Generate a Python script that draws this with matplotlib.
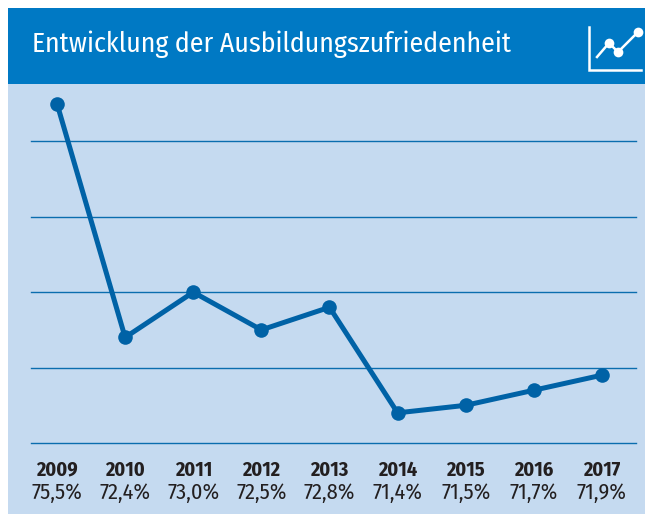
import matplotlib
matplotlib.use('Agg')
import matplotlib.pyplot as plt
from matplotlib.patches import Rectangle

#Dati
years = [2009, 2010, 2011, 2012, 2013, 2014, 2015, 2016, 2017]
values = [75.5, 72.4, 73.0, 72.5, 72.8, 71.4, 71.5, 71.7, 71.9]
value_labels = ['75,5%', '72,4%', '73,0%', '72,5%', '72,8%', '71,4%', '71,5%', '71,7%', '71,9%']
grid_levels = [71, 72, 73, 74, 75]
title = 'Entwicklung der Ausbildungszufriedenheit'

W, H = 645, 514
FONT = ['Fira Sans Condensed', 'Liberation Sans', 'DejaVu Sans']
HEADER = '#0079c4'
BODY = '#c5daf0'
LINE = '#0062a6'
TEXT = '#231f20'

fig = plt.figure(figsize=(W / 100, H / 100), dpi=100)

#Sfondo in coordinate pixel
bg = fig.add_axes([0, 0, 1, 1])
bg.set_xlim(0, W)
bg.set_ylim(H, 0)
bg.axis('off')
bg.add_patch(Rectangle((8, 84), W - 8, H - 84, color=BODY, lw=0))
bg.add_patch(Rectangle((8, 8), W - 8, 76, color=HEADER, lw=0))
bg.text(32, 44, title, color='white', fontsize=20, family=FONT, va='center', ha='left')

#Icona
bg.plot([589, 589, 641], [27, 70, 70], color='white', lw=1.8, solid_joinstyle='miter')
bg.plot([597, 609, 618, 638], [57, 43, 52, 32], color='white', lw=1.8)
bg.plot([609, 618, 638], [43, 52, 32], 'o', color='white', ms=7, mew=0)

#Grafico
left, right, bottom, top = 31, 636, 443, 84
px_year = 68.1
px_unit = 75.4
ax = fig.add_axes([left / W, 1 - bottom / H, (right - left) / W, (bottom - top) / H])
ax.patch.set_alpha(0)
ax.set_xlim(2009 - (57 - left) / px_year, 2017 + (right - 602) / px_year)
ax.set_ylim(71, 71 + (bottom - top) / px_unit)
for s in ax.spines.values():
    s.set_visible(False)
ax.set_yticks([])
ax.set_xticks([])
for g in grid_levels:
    ax.axhline(g, color='#0a6dae', lw=1.0, zorder=1, clip_on=False)
ax.plot(years, values, color=LINE, lw=3.6, marker='o', ms=10.5, mew=0, zorder=3, clip_on=False)

#Etichette anni e valori
tr = ax.get_xaxis_transform()
for year, lab in zip(years, value_labels):
    ax.text(year, -27 / (bottom - top), str(year), transform=tr, ha='center', va='center',
            fontsize=14.5, fontweight='bold', family=FONT, color=TEXT)
    ax.text(year, -50 / (bottom - top), lab, transform=tr, ha='center', va='center',
            fontsize=16, family=FONT, color=TEXT)

fig.savefig('out.png', dpi=100)
